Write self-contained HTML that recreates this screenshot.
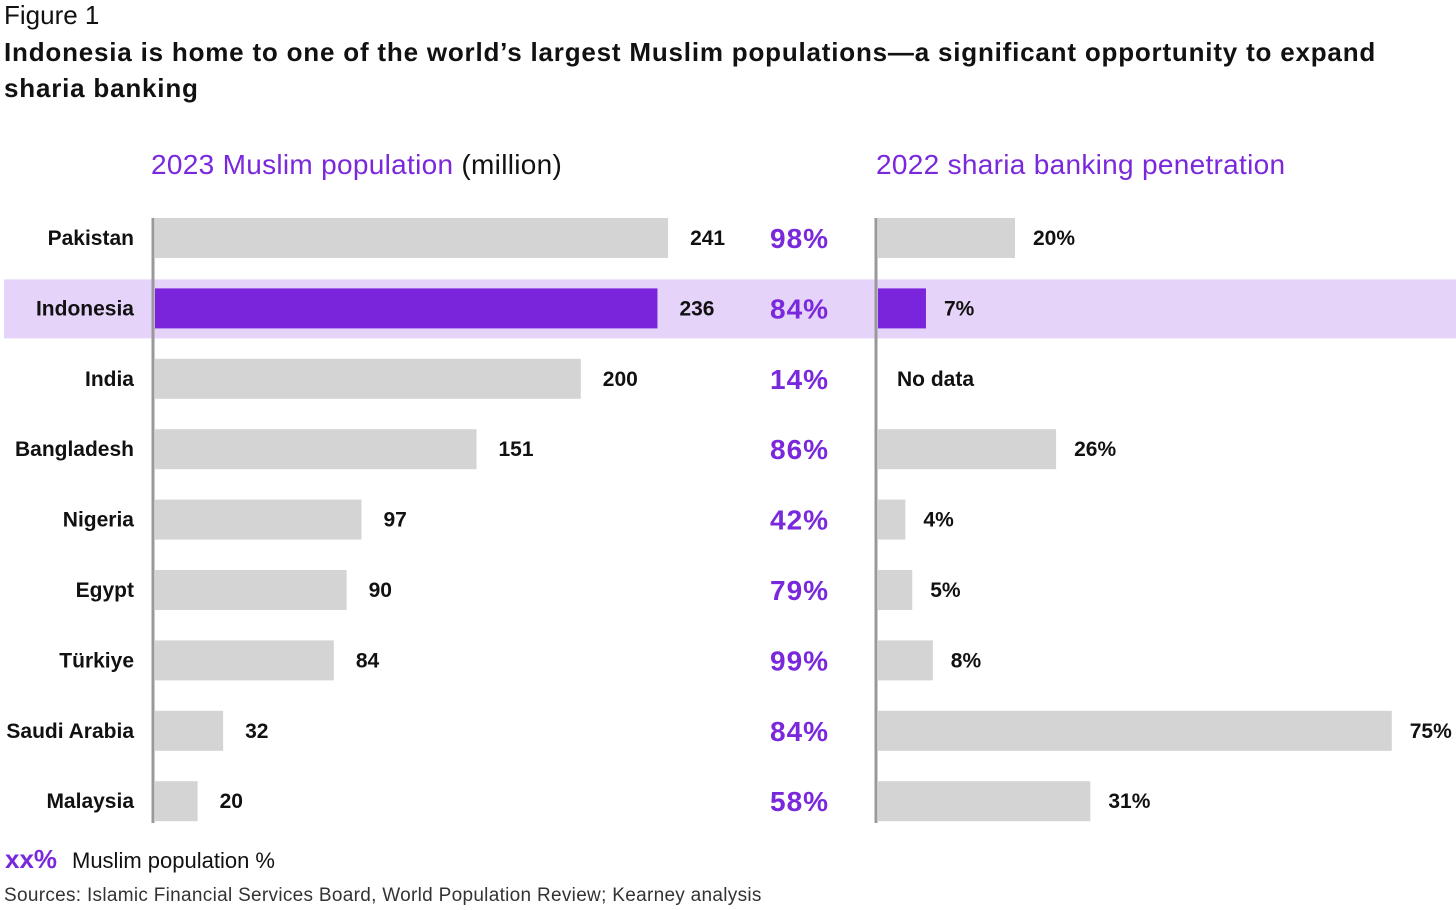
<!DOCTYPE html>
<html><head><meta charset="utf-8"><style>
body{margin:0;width:1456px;height:910px;background:#fff;font-family:"Liberation Sans",sans-serif;position:relative;overflow:hidden;color:#111}
.t{position:absolute;white-space:nowrap}
</style></head><body>
<div class="t" style="left:4px;top:0px;font-size:26px">Figure 1</div>
<div class="t" style="left:4px;top:34px;font-size:26px;font-weight:bold;line-height:36px;letter-spacing:0.8px">Indonesia is home to one of the world’s largest Muslim populations—a significant opportunity to expand<br>sharia banking</div>
<div class="t" style="left:151px;top:149px;font-size:28px;letter-spacing:0.3px;color:#7a28dc">2023 Muslim population <span style="color:#111">(million)</span></div>
<div class="t" style="left:876px;top:149px;font-size:28px;letter-spacing:0.3px;color:#7a28dc">2022 sharia banking penetration</div>
<svg id="c" width="1456" height="910" style="position:absolute;left:0;top:0"></svg>
<div class="t" style="left:5px;top:844px;font-size:26px;font-weight:bold;color:#7a28dc">xx%</div>
<div class="t" style="left:72px;top:848px;font-size:22px">Muslim population %</div>
<div class="t" style="left:4px;top:885px;font-size:19px;letter-spacing:0.3px;color:#333">Sources: Islamic Financial Services Board, World Population Review; Kearney analysis</div>
<script>
const countries=["Pakistan","Indonesia","India","Bangladesh","Nigeria","Egypt","Türkiye","Saudi Arabia","Malaysia"];
const population=[241,236,200,151,97,90,84,32,20];
const muslimPct=[98,84,14,86,42,79,99,84,58];
const penetration=[20,7,null,26,4,5,8,75,31];
const highlight="Indonesia";
const ns="http://www.w3.org/2000/svg",svg=document.getElementById('c');
function el(t,a,txt){const e=document.createElementNS(ns,t);for(const k in a)e.setAttribute(k,a[k]);if(txt!=null)e.textContent=txt;svg.appendChild(e);return e;}
const y=i=>238+i*70.4;
const xL=v=>155+v*2.129;
const xR=v=>878+v*6.85;
countries.forEach((c,i)=>{
 if(c===highlight){const b=el('rect',{x:4,y:y(i)-29,width:1452,height:59,fill:'#e6d3fa'});
 
 }
});
countries.forEach((c,i)=>{
 const hi=c===highlight,col=hi?'#7a24dc':'#d4d4d4';
 const lab=el('text',{x:134,y:y(i)+7,'text-anchor':'end','font-size':21,'font-weight':'bold',fill:'#111'},c);
 
 
 const b=el('rect',{x:155,y:y(i)-20,width:xL(population[i])-155,height:40,fill:col});
 
 
 const v=el('text',{x:xL(population[i])+22,y:y(i)+7,'font-size':21,'font-weight':'bold',fill:'#111'},population[i]);
 
 
 const p=el('text',{x:770,y:y(i)+10,'font-size':28,'font-weight':'bold','letter-spacing':1,fill:'#7a28dc'},muslimPct[i]+'%');
 
 
 if(penetration[i]==null){
  const n=el('text',{x:897,y:y(i)+7,'font-size':21,'font-weight':'bold',fill:'#111'},'No data');
  
  
 }else{
  const r=el('rect',{x:878,y:y(i)-20,width:xR(penetration[i])-878,height:40,fill:col});
  
  
  const t=el('text',{x:xR(penetration[i])+18,y:y(i)+7,'font-size':21,'font-weight':'bold',fill:'#111'},penetration[i]+'%');
  
  
 }
});
const a1=el('line',{x1:153,x2:153,y1:218,y2:823,stroke:'#999','stroke-width':3});


const a2=el('line',{x1:876,x2:876,y1:218,y2:823,stroke:'#999','stroke-width':3});


</script>
</body></html>
